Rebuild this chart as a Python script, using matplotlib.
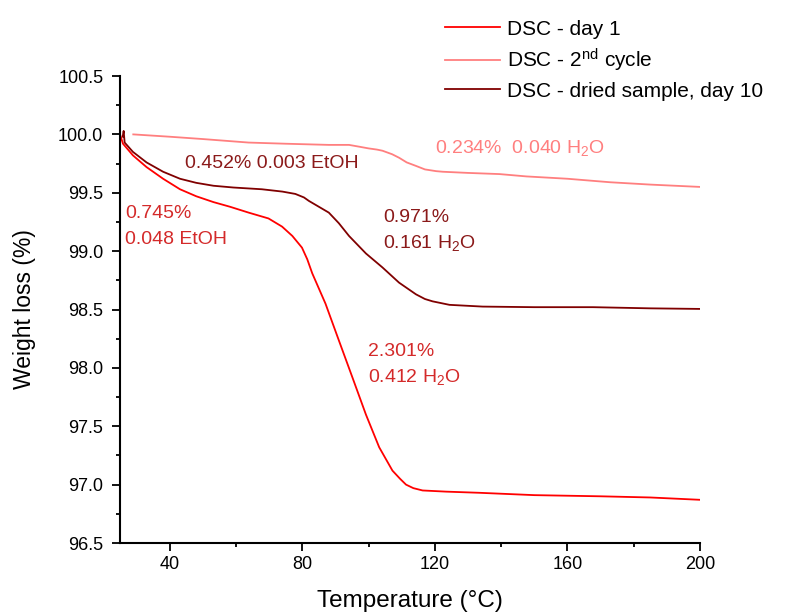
import matplotlib
matplotlib.use("Agg")
import matplotlib.pyplot as plt
from matplotlib.ticker import MultipleLocator, FormatStrFormatter

plt.rcParams['font.family'] = ['Liberation Sans', 'DejaVu Sans']
plt.rcParams['mathtext.fontset'] = 'custom'
plt.rcParams['mathtext.rm'] = 'Liberation Sans'
plt.rcParams['mathtext.it'] = 'Liberation Sans:italic'

# Data
t_day1 = [25.0, 25.9, 28.9, 33.0, 38.0, 43.1, 48.0, 53.2, 58.2, 63.8, 69.8, 73.9, 77.0, 79.9, 81.5,
          83.0, 87.0, 91.1, 95.1, 99.2, 103.2, 107.2, 109.5, 111.3, 113.5, 116.3, 123.4, 133.5,
          150.0, 170.0, 185.0, 200.0]
w_day1 = [100.0, 99.92, 99.82, 99.72, 99.62, 99.53, 99.47, 99.42, 99.38, 99.33, 99.28, 99.21, 99.13, 99.03, 98.93,
          98.81, 98.55, 98.23, 97.92, 97.60, 97.32, 97.12, 97.05, 97.00, 96.97, 96.95, 96.94, 96.93,
          96.91, 96.90, 96.89, 96.87]

t_cycle2 = [29.0, 40.0, 50.0, 63.8, 75.0, 88.0, 94.1, 97.1, 100.0, 102.5, 104.2, 107.1, 109.2, 111.5, 114.3,
            117.0, 120.4, 122.4, 130.0, 139.5, 147.6, 160.0, 172.9, 185.0, 200.0]
w_cycle2 = [100.0, 99.98, 99.96, 99.93, 99.92, 99.91, 99.91, 99.895, 99.88, 99.87, 99.86, 99.83, 99.80, 99.76, 99.73,
            99.70, 99.685, 99.68, 99.67, 99.66, 99.64, 99.62, 99.59, 99.57, 99.55]

t_dried = [25.8, 26.1, 26.4, 28.9, 33.0, 38.0, 43.1, 48.0, 53.2, 59.2, 67.8, 74.0, 77.9, 80.5, 82.0, 85.0,
           88.0, 91.0, 94.1, 99.2, 104.2, 109.2, 114.3, 117.0, 119.3, 124.4, 134.4, 150.0, 167.7, 185.0, 200.0]
w_dried = [99.98, 100.03, 99.93, 99.85, 99.76, 99.68, 99.62, 99.585, 99.56, 99.545, 99.53, 99.51, 99.49, 99.46,
           99.43, 99.38, 99.33, 99.24, 99.13, 98.98, 98.86, 98.73, 98.63, 98.59, 98.57, 98.54, 98.525, 98.52,
           98.52, 98.51, 98.505]

labels = ['DSC - day 1', 'DSC - 2$^{\\mathrm{nd}}$ cycle', 'DSC - dried sample, day 10']
colors = ['#ff0000', '#ff7f7f', '#800000']

fig = plt.figure(figsize=(8.06, 6.16), dpi=100)
ax = fig.add_axes([0.1489, 0.1185, 0.7196, 0.7581])

l1, = ax.plot(t_day1, w_day1, color=colors[0], lw=1.3)
l2, = ax.plot(t_cycle2, w_cycle2, color=colors[1], lw=1.3)
l3, = ax.plot(t_dried, w_dried, color=colors[2], lw=1.3)

ax.set_xlim(25, 200)
ax.set_ylim(96.5, 100.5)
ax.set_xticks([40, 80, 120, 160, 200])
ax.xaxis.set_minor_locator(MultipleLocator(20))
ax.yaxis.set_major_locator(MultipleLocator(0.5))
ax.yaxis.set_minor_locator(MultipleLocator(0.25))
ax.yaxis.set_major_formatter(FormatStrFormatter('%.1f'))
for s in ['top', 'right']:
    ax.spines[s].set_visible(False)
for s in ['left', 'bottom']:
    ax.spines[s].set_linewidth(1.5)
ax.tick_params(which='major', direction='out', length=5.5, width=1.3, labelsize=13)
ax.tick_params(axis='y', which='major', pad=6.5)
ax.tick_params(axis='x', which='major', pad=4)
ax.tick_params(which='minor', direction='out', length=3, width=1.3)
ax.set_xlabel('Temperature (°C)', fontsize=17.5, labelpad=12)
ax.set_ylabel('Weight loss (%)', fontsize=16.5, labelpad=16)

c_red_txt = '#d42a2a'
c_dark_txt = '#8b1a1a'
c_light_txt = '#ff7f7f'
fs = 14
ax.text(44.5, 99.75, '0.452% 0.003 EtOH', color=c_dark_txt, fontsize=fs, va='center')
ax.text(26.5, 99.32, '0.745%', color=c_red_txt, fontsize=fs, va='center')
ax.text(26.5, 99.10, '0.048 EtOH', color=c_red_txt, fontsize=fs, va='center')
ax.text(104.3, 99.29, '0.971%', color=c_dark_txt, fontsize=fs, va='center')
ax.text(104.3, 99.07, '0.161 H$_2$O', color=c_dark_txt, fontsize=fs, va='center')
ax.text(99.8, 98.14, '2.301%', color=c_red_txt, fontsize=fs, va='center')
ax.text(99.8, 97.92, '0.412 H$_2$O', color=c_red_txt, fontsize=fs, va='center')
ax.text(119.9, 99.88, '0.234%  0.040 H$_2$O', color=c_light_txt, fontsize=fs, va='center')

fig.legend([l1, l2, l3], labels, loc='upper left', bbox_to_anchor=(0.534, 0.992),
           frameon=False, fontsize=15, handlelength=2.65, handletextpad=0.35,
           labelspacing=0.38, borderaxespad=0.3)

fig.savefig('out.png', dpi=100)
